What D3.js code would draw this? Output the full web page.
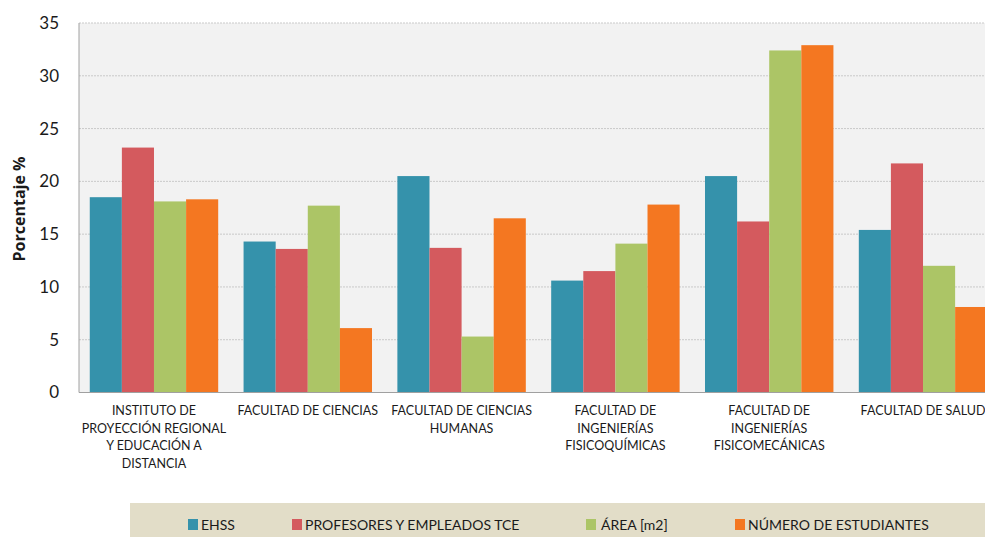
<!DOCTYPE html>
<html>
<head>
<meta charset="utf-8">
<script src="https://cdn.jsdelivr.net/npm/d3@7"></script>
<style>
  body { margin:0; background:#fff; }
  svg { display:block; font-family: Lato, "Open Sans", sans-serif; }
</style>
</head>
<body>
<svg id="chart" width="985" height="537"></svg>
<script>
// data
var categories = [
  ["INSTITUTO DE", "PROYECCIÓN REGIONAL", "Y EDUCACIÓN A", "DISTANCIA"],
  ["FACULTAD DE CIENCIAS"],
  ["FACULTAD DE CIENCIAS", "HUMANAS"],
  ["FACULTAD DE", "INGENIERÍAS", "FISICOQUÍMICAS"],
  ["FACULTAD DE", "INGENIERÍAS", "FISICOMECÁNICAS"],
  ["FACULTAD DE SALUD"]
];
var seriesNames = ["EHSS", "PROFESORES Y EMPLEADOS TCE", "ÁREA [m2]", "NÚMERO DE ESTUDIANTES"];
var ehss       = [18.5, 14.3, 20.5, 10.6, 20.5, 15.4];
var profesores = [23.2, 13.6, 13.7, 11.5, 16.2, 21.7];
var area       = [18.1, 17.7, 5.3, 14.1, 32.4, 12.0];
var estudiantes= [18.3, 6.1, 16.5, 17.8, 32.9, 8.1];
var yTicks = [0, 5, 10, 15, 20, 25, 30, 35];
var colors = ["#3592ab", "#d45a5e", "#acc566", "#f47721"];

var series = [ehss, profesores, area, estudiantes];

var svg = d3.select("#chart");
var mLeft = 79, mTop = 23, mBottom = 392.5, mRight = 998;

var x0 = d3.scaleBand()
    .domain(d3.range(categories.length))
    .range([mLeft, mRight])
    .paddingInner(0.165)
    .paddingOuter(0.07);
var x1 = d3.scaleBand()
    .domain(d3.range(series.length))
    .range([0, x0.bandwidth()]);
var y = d3.scaleLinear().domain([0, 35]).range([mBottom, mTop]);

// plot background
svg.append("rect")
    .attr("x", mLeft).attr("y", mTop)
    .attr("width", 985 - mLeft).attr("height", mBottom - mTop)
    .attr("fill", "#f2f2f2");

// grid
svg.append("g").selectAll("line")
  .data(yTicks.filter(function(d){ return d > 0; }))
  .enter().append("line")
    .attr("x1", mLeft).attr("x2", 985)
    .attr("y1", function(d){ return y(d); })
    .attr("y2", function(d){ return y(d); })
    .attr("stroke", "#c9c9c9")
    .attr("stroke-dasharray", "2,1");

// bars
var groups = svg.append("g").selectAll("g")
  .data(categories)
  .enter().append("g")
    .attr("transform", function(d, i){ return "translate(" + x0(i) + ",0)"; });

groups.selectAll("rect")
  .data(function(d, i){ return series.map(function(s, k){ return {k:k, v:s[i]}; }); })
  .enter().append("rect")
    .attr("x", function(d){ return x1(d.k); })
    .attr("width", x1.bandwidth())
    .attr("y", function(d){ return y(d.v); })
    .attr("height", function(d){ return y(0) - y(d.v); })
    .attr("fill", function(d){ return colors[d.k]; });

// axes lines
svg.append("line").attr("x1", mLeft).attr("x2", mLeft).attr("y1", mTop).attr("y2", mBottom)
    .attr("stroke", "#a0a0a0");
svg.append("line").attr("x1", mLeft).attr("x2", 985).attr("y1", mBottom).attr("y2", mBottom)
    .attr("stroke", "#a0a0a0");

// y axis
var yAxis = d3.axisLeft(y).tickValues(yTicks).tickSize(0).tickPadding(20);
var ya = svg.append("g").attr("transform", "translate(" + mLeft + ",0)").call(yAxis);
ya.select(".domain").remove();
ya.selectAll("text").attr("font-size", 17).attr("fill", "#1a1a1a")
    .attr("font-family", "Lato, 'Open Sans', sans-serif");

svg.append("text")
    .attr("transform", "translate(25,209) rotate(-90)")
    .attr("text-anchor", "middle")
    .attr("font-family", "'Open Sans', sans-serif")
    .attr("font-size", 16).attr("font-weight", "bold").attr("fill", "#1a1a1a")
    .text("Porcentaje %");

// category labels
var labels = svg.append("g").selectAll("text")
  .data(categories)
  .enter().append("text")
    .attr("text-anchor", "middle")
    .attr("font-size", 12.5).attr("fill", "#1a1a1a")
    .attr("x", function(d, i){ return x0(i) + x0.bandwidth() / 2; })
    .attr("y", 415);
labels.selectAll("tspan")
  .data(function(d){ return d; })
  .enter().append("tspan")
    .attr("x", function(){ return d3.select(this.parentNode).attr("x"); })
    .attr("dy", function(d, i){ return i === 0 ? 0 : 17.5; })
    .text(function(d){ return d; });

// legend
svg.append("rect").attr("x", 130).attr("y", 503).attr("width", 855).attr("height", 34)
    .attr("fill", "#e2ddc8");
var legendX = [188, 292, 586, 735];
var leg = svg.append("g").selectAll("g")
  .data(seriesNames)
  .enter().append("g")
    .attr("transform", function(d, i){ return "translate(" + legendX[i] + ",519)"; });
leg.append("rect").attr("width", 10).attr("height", 11).attr("y", 0)
    .attr("fill", function(d, i){ return colors[i]; });
leg.append("text")
    .attr("x", function(d, i){ return i === 2 ? 15 : 13; }).attr("y", 11)
    .attr("font-size", 14).attr("fill", "#1a1a1a")
    .text(function(d){ return d; });
</script>
</body>
</html>
